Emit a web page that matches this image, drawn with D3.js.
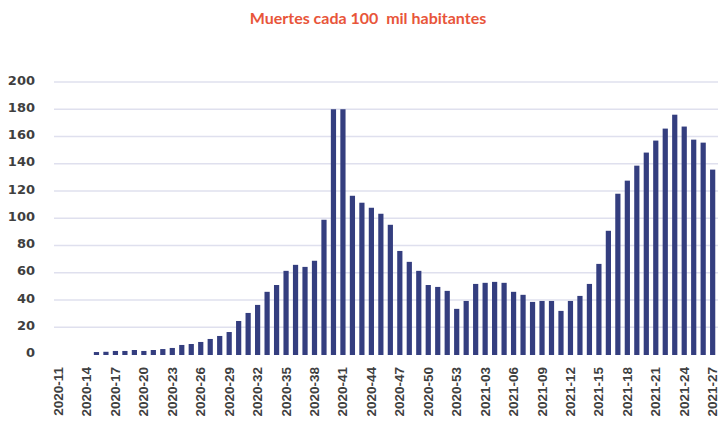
<!DOCTYPE html>
<html>
<head>
<meta charset="utf-8">
<script src="https://cdn.jsdelivr.net/npm/d3@7"></script>
<style>
  body { margin: 0; background: #fff; }
  svg { display: block; }
</style>
</head>
<body>
<div id="chart"></div>
<script>
// Epidemiological weeks 2020-11 .. 2021-27
const weeks = [];
for (let w = 11; w <= 53; w++) weeks.push(`2020-${String(w).padStart(2, "0")}`);
for (let w = 1; w <= 27; w++) weeks.push(`2021-${String(w).padStart(2, "0")}`);

// Deaths per 100k inhabitants (null = no bar)
const deaths = [
  null, null, null, null, 1.8, 2, 2.6, 2.6, 3.3, 2.6,
  3.3, 4, 4.8, 7, 7.7, 9.2, 11.4, 13.6, 16.5, 24.6,
  30.5, 36.4, 46, 51, 61.4, 65.8, 64.3, 68.8, 98.9, 180,
  180, 116.5, 111.4, 107.7, 103.3, 95.2, 76, 68, 61.4, 51,
  49.6, 46.7, 33.5, 39.3, 51.8, 52.6, 53.3, 52.6, 46, 43.8,
  38.6, 39.3, 39.3, 32, 39.3, 43, 51.8, 66.5, 90.8, 118,
  127.6, 138.6, 148.2, 157, 165.8, 176, 167.3, 157.7, 155.5, 135.7
];

const yTicks = [0, 20, 40, 60, 80, 100, 120, 140, 160, 180, 200];
const title = "Muertes cada 100\u00a0 mil habitantes";

const width = 720, height = 425;
const margin = { top: 82, right: 2.6, bottom: 70.5, left: 53.8 };

const svg = d3.select("#chart")
  .append("svg")
  .attr("width", width)
  .attr("height", height);

const x = d3.scaleBand()
  .domain(weeks)
  .range([margin.left, width - margin.right])
  .paddingInner(0.45)
  .paddingOuter(0.225);

const y = d3.scaleLinear()
  .domain([0, 200])
  .range([height - margin.bottom, margin.top]);

// horizontal gridlines (no line at zero)
svg.append("g")
  .selectAll("line")
  .data(yTicks.filter(d => d > 0))
  .join("line")
  .attr("x1", 54)
  .attr("x2", 718)
  .attr("y1", d => y(d))
  .attr("y2", d => y(d))
  .attr("stroke", "#dfe0ee")
  .attr("stroke-width", 1.5);

// y labels
svg.append("g")
  .selectAll("text")
  .data(yTicks)
  .join("text")
  .attr("x", 35)
  .attr("y", d => y(d) - 2)
  .attr("text-anchor", "end")
  .attr("dominant-baseline", "central")
  .attr("font-family", "DejaVu Sans, sans-serif")
  .attr("font-weight", "bold")
  .attr("font-size", 13)
  .attr("fill", "#3f3f3f")
  .text(d => d);

// bars
svg.append("g")
  .selectAll("rect")
  .data(weeks.map((w, i) => ({ week: w, value: deaths[i] })).filter(d => d.value != null))
  .join("rect")
  .attr("x", d => x(d.week))
  .attr("y", d => y(d.value))
  .attr("width", x.bandwidth())
  .attr("height", d => y(0) - y(d.value) + 0.5)
  .attr("fill", "#343e7f");

// x labels: every third week, rotated
svg.append("g")
  .selectAll("text")
  .data(weeks.filter((w, i) => i % 3 === 0))
  .join("text")
  .attr("transform", d => `translate(${x(d) + x.bandwidth() / 2},367) rotate(-90)`)
  .attr("text-anchor", "end")
  .attr("dominant-baseline", "central")
  .attr("font-family", "Liberation Sans, Arial, sans-serif")
  .attr("font-weight", "bold")
  .attr("font-size", 13.5)
  .attr("fill", "#3f3f3f")
  .text(d => d);

// title
svg.append("text")
  .attr("x", 368)
  .attr("y", 24)
  .attr("text-anchor", "middle")
  .attr("font-family", "Lato, sans-serif")
  .attr("font-weight", "bold")
  .attr("font-size", 16)
  .attr("fill", "#e8553a")
  .text(title);
</script>
</body>
</html>
